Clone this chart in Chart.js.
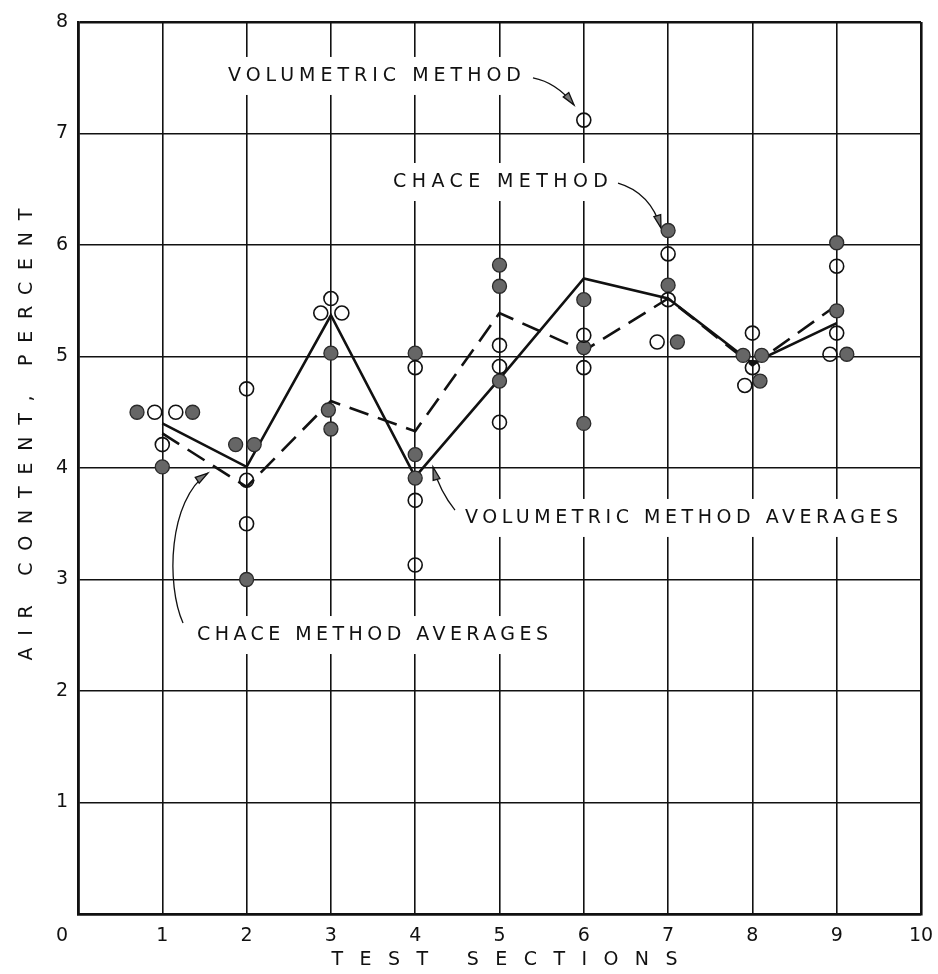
<!DOCTYPE html>
<html>
<head>
<meta charset="utf-8">
<script src="https://cdn.jsdelivr.net/npm/chart.js@4/dist/chart.umd.min.js"></script>
<style>
  html, body { margin: 0; padding: 0; background: #fff; }
  #wrap { width: 938px; height: 974px; }
</style>
</head>
<body>
<div id="wrap"><canvas id="c" width="938" height="974"></canvas></div>
<script>
// Test sections along the x axis
const sections = [1, 2, 3, 4, 5, 6, 7, 8, 9];

// Section averages (percent air)
const volumetricAvg = [4.40, 4.01, 5.37, 3.92, 4.80, 5.70, 5.52, 4.94, 5.30];
const chaceAvg      = [4.31, 3.83, 4.60, 4.33, 5.39, 5.05, 5.52, 4.92, 5.46];

// Individual volumetric-method readings (open circles)
const volumetricX = [0.91, 1.16, 1.00,  2.00, 2.00, 2.00,  3.00, 2.88, 3.13,  4.00, 4.00, 4.00,
                     5.00, 5.00, 5.00,  6.00, 6.00, 6.00,  7.00, 7.00, 6.87,  8.00, 8.00, 7.91,
                     9.00, 9.00, 8.92];
const volumetricY = [4.50, 4.50, 4.21,  4.71, 3.89, 3.50,  5.52, 5.39, 5.39,  4.90, 3.71, 3.13,
                     5.10, 4.91, 4.41,  7.12, 5.19, 4.90,  5.92, 5.51, 5.13,  5.21, 4.90, 4.74,
                     5.81, 5.21, 5.02];

// Individual Chace-method readings (filled circles)
const chaceX = [0.70, 1.36, 1.00,  1.87, 2.09, 2.00,  3.00, 2.97, 3.00,  4.00, 4.00, 4.00,
                5.00, 5.00, 5.00,  6.00, 6.00, 6.00,  7.00, 7.00, 7.11,  7.89, 8.11, 8.09,
                9.00, 9.00, 9.12];
const chaceY = [4.50, 4.50, 4.01,  4.21, 4.21, 3.00,  5.03, 4.52, 4.35,  5.03, 4.12, 3.91,
                5.82, 5.63, 4.78,  5.51, 5.08, 4.40,  6.13, 5.64, 5.13,  5.01, 5.01, 4.78,
                6.02, 5.41, 5.02];

// Tick labels
const xTickLabels = ['0', '1', '2', '3', '4', '5', '6', '7', '8', '9', '10'];
const yTickLabels = ['0', '1', '2', '3', '4', '5', '6', '7', '8'];

const FONT = '"DejaVu Sans", "Liberation Sans", sans-serif';
const INK = '#111';

const pts = (xs, ys) => xs.map((x, i) => ({ x, y: ys[i] }));

// Callout labels with their leader arrows, placed in data units
const callouts = [
  { text: 'VOLUMETRIC METHOD', x0: 1.779, x1: 5.255, y: 7.516,
    arrow: [[5.397, 7.498], [5.676, 7.457], [5.884, 7.256]] },
  { text: 'CHACE METHOD', x0: 3.737, x1: 6.287, y: 6.565,
    arrow: [[6.406, 6.556], [6.791, 6.471], [6.916, 6.152]] },
  { text: 'VOLUMETRIC METHOD AVERAGES', x0: 4.591, x1: 9.727, y: 3.552,
    arrow: [[4.472, 3.623], [4.294, 3.789], [4.211, 4.009]] },
  { text: 'CHACE METHOD AVERAGES', x0: 1.412, x1: 5.575, y: 2.502,
    arrow: [[1.246, 2.610], [1.044, 2.951], [1.068, 3.713], [1.542, 3.955]] }
];

function spacedText(ctx, text, left, right, y) {
  ctx.letterSpacing = '0px';
  const w = ctx.measureText(text).width;
  const sp = (right - left - w) / (text.length - 1);
  ctx.letterSpacing = sp + 'px';
  ctx.textAlign = 'left';
  ctx.textBaseline = 'middle';
  ctx.fillText(text, left, y);
  ctx.letterSpacing = '0px';
}

function arrowHead(ctx, from, to) {
  const ang = Math.atan2(to[1] - from[1], to[0] - from[0]);
  const len = 13, half = 3.5;
  const bx = to[0] - len * Math.cos(ang), by = to[1] - len * Math.sin(ang);
  ctx.beginPath();
  ctx.moveTo(to[0], to[1]);
  ctx.lineTo(bx + half * Math.sin(ang), by - half * Math.cos(ang));
  ctx.lineTo(bx - half * Math.sin(ang), by + half * Math.cos(ang));
  ctx.closePath();
  ctx.fillStyle = '#777';
  ctx.fill();
  ctx.stroke();
}

const calloutPlugin = {
  id: 'callouts',
  beforeDatasetsDraw(chart) {
    const { ctx, scales: { x, y } } = chart;
    ctx.save();
    ctx.font = '19px ' + FONT;
    callouts.forEach(c => {
      const l = x.getPixelForValue(c.x0), r = x.getPixelForValue(c.x1), py = y.getPixelForValue(c.y);
      // clear the grid behind the lettering
      ctx.fillStyle = '#fff';
      ctx.fillRect(l - 8, py - 19, r - l + 16, 38);
      ctx.fillStyle = INK;
      spacedText(ctx, c.text, l, r, py);
      // leader arrow
      const p = c.arrow.map(a => [x.getPixelForValue(a[0]), y.getPixelForValue(a[1])]);
      ctx.strokeStyle = INK;
      ctx.lineWidth = 1.3;
      ctx.beginPath();
      ctx.moveTo(p[0][0], p[0][1]);
      if (p.length === 3) ctx.quadraticCurveTo(p[1][0], p[1][1], p[2][0], p[2][1]);
      else ctx.bezierCurveTo(p[1][0], p[1][1], p[2][0], p[2][1], p[3][0], p[3][1]);
      ctx.stroke();
      const n = p.length;
      arrowHead(ctx, p[n - 2], p[n - 1]);
    });
    ctx.restore();
  },
  afterDraw(chart) {
    const { ctx, chartArea: a, scales: { x, y } } = chart;
    ctx.save();
    ctx.fillStyle = INK;
    // shared origin label
    ctx.font = '19px ' + FONT;
    ctx.textAlign = 'center';
    ctx.textBaseline = 'middle';
    ctx.fillText(xTickLabels[0], x.getPixelForValue(0) - 16, a.bottom + 22);
    // axis titles
    const cx = (a.left + a.right) / 2;
    spacedText(ctx, 'TEST SECTIONS', cx - 168, cx + 178, a.bottom + 46);
    ctx.translate(27, y.getPixelForValue(4.3));
    ctx.rotate(-Math.PI / 2);
    spacedText(ctx, 'AIR CONTENT, PERCENT', -226, 226, 0);
    ctx.restore();
  }
};

const gridWidth = c => (c.tick && (c.tick.value === 0 || c.tick.value === c.scale.max)) ? 2.6 : 1.6;

new Chart(document.getElementById('c'), {
  type: 'scatter',
  data: {
    datasets: [
      {
        type: 'line',
        label: 'Volumetric method averages',
        data: pts(sections, volumetricAvg),
        borderColor: INK,
        borderWidth: 2.6,
        pointRadius: 0,
        tension: 0,
        fill: false,
        order: 3
      },
      {
        type: 'line',
        label: 'Chace method averages',
        data: pts(sections, chaceAvg),
        borderColor: INK,
        borderWidth: 2.6,
        borderDash: [20, 10],
        pointRadius: 0,
        tension: 0,
        fill: false,
        order: 4
      },
      {
        label: 'Chace method',
        data: pts(chaceX, chaceY),
        pointRadius: 7,
        pointBackgroundColor: '#666',
        pointBorderColor: '#2a2a2a',
        pointBorderWidth: 1.3,
        order: 2
      },
      {
        label: 'Volumetric method',
        data: pts(volumetricX, volumetricY),
        pointRadius: 7,
        pointBackgroundColor: 'rgba(255,255,255,0)',
        pointBorderColor: INK,
        pointBorderWidth: 1.6,
        order: 1
      }
    ]
  },
  options: {
    responsive: false,
    animation: false,
    devicePixelRatio: 1,
    layout: { padding: { top: 22, right: 17, left: 0, bottom: 0 } },
    plugins: {
      legend: { display: false },
      tooltip: { enabled: false }
    },
    scales: {
      x: {
        type: 'linear',
        min: 0, max: 10,
        afterFit: s => { s.height = 60; s.paddingRight = 8; s.paddingLeft = 0; },
        ticks: {
          stepSize: 1,
          padding: 11,
          color: INK,
          font: { family: FONT, size: 19 },
          maxRotation: 0,
          callback: v => (v === 0 ? '' : xTickLabels[v])
        },
        grid: { color: INK, lineWidth: gridWidth, drawTicks: false },
        border: { display: true, color: INK, width: 2.6 }
      },
      y: {
        type: 'linear',
        min: 0, max: 8,
        afterFit: s => { s.width = 78; },
        ticks: {
          stepSize: 1,
          padding: 10,
          color: INK,
          font: { family: FONT, size: 19 },
          callback: v => (v === 0 ? '' : yTickLabels[v])
        },
        grid: { color: INK, lineWidth: gridWidth, drawTicks: false },
        border: { display: true, color: INK, width: 2.6 }
      }
    }
  },
  plugins: [calloutPlugin]
});
</script>
</body>
</html>
